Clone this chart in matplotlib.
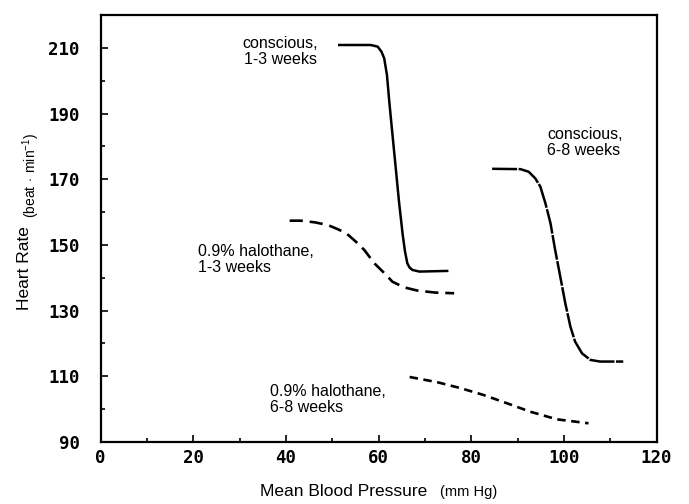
import matplotlib.pyplot as plt
from matplotlib.ticker import MultipleLocator

plt.rcParams['font.family'] = ['Liberation Sans', 'DejaVu Sans']
plt.rcParams['mathtext.fontset'] = 'custom'
plt.rcParams['mathtext.rm'] = 'Liberation Sans'

# baroreflex curves: mean blood pressure (mm Hg) vs heart rate (beat/min)
conscious_13_bp = [51.5, 58.3, 59.8, 60.6, 61.2, 61.8, 62.3, 63.0, 63.7, 64.4, 65.2, 65.7, 66.2,
                   66.7, 67.3, 68.8, 74.8]
conscious_13_hr = [210.9, 210.9, 210.4, 208.9, 206.9, 201.8, 193.7, 183.5, 173.4, 163.2, 153.1, 148.0, 144.4,
                   143.1, 142.4, 141.9, 142.1]

halo_13_bp = [40.8, 43.3, 46.2, 49.0, 51.2, 53.0, 55.1, 56.9, 59.1, 60.9, 63.0, 65.5, 68.4, 72.3, 76.3]
halo_13_hr = [157.4, 157.4, 156.9, 156.1, 154.8, 153.6, 151.0, 148.5, 144.4, 141.9, 138.8, 137.1, 136.1,
              135.5, 135.3]

conscious_68_bp = [84.5, 90.6, 92.4, 93.8, 94.9, 96.0, 97.1, 98.1, 99.2, 100.3, 101.4, 102.4, 103.9,
                   105.7, 107.8, 112.8]
conscious_68_hr = [173.2, 173.1, 172.3, 170.3, 167.8, 162.7, 156.6, 148.5, 140.4, 132.2, 125.1, 120.6,
                   117.0, 115.0, 114.5, 114.5]

halo_68_bp = [66.7, 72.7, 77.7, 82.7, 87.7, 92.8, 98.5, 105.3]
halo_68_hr = [109.8, 108.2, 106.4, 104.3, 101.8, 99.2, 96.9, 95.7]

fig = plt.figure(figsize=(6.89, 5.04), dpi=100)
ax = fig.add_axes([0.146, 0.123, 0.807, 0.847])

ax.plot(conscious_13_bp, conscious_13_hr, color='black', lw=1.8, solid_joinstyle='round')
ax.plot(halo_13_bp, halo_13_hr, color='black', lw=1.9, dashes=(5, 2.6))
ax.plot(conscious_68_bp, conscious_68_hr, color='black', lw=1.8, dashes=(10, 0.6))
ax.plot(halo_68_bp, halo_68_hr, color='black', lw=1.9, dashes=(3.2, 2.1))

ax.set_xlim(0, 120)
ax.set_ylim(90, 220)
ax.xaxis.set_major_locator(MultipleLocator(20))
ax.xaxis.set_minor_locator(MultipleLocator(10))
ax.yaxis.set_minor_locator(MultipleLocator(10))
ax.set_yticks(range(90, 211, 20))

for s in ax.spines.values():
    s.set_linewidth(1.6)

ax.tick_params(which='both', direction='in', top=False, right=False, width=1.2)
ax.tick_params(which='major', length=5)
ax.tick_params(which='minor', length=3)
ax.tick_params(axis='y', pad=15)
ax.tick_params(axis='x', pad=5)
for lab in ax.get_xticklabels() + ax.get_yticklabels():
    lab.set_fontfamily('DejaVu Sans Mono')
    lab.set_fontweight('bold')
    lab.set_fontsize(12.5)

txt = dict(fontsize=11.5, color='black', va='top', linespacing=1.05)
ax.text(47.0, 213.6, 'conscious,\n1-3 weeks', ha='right', multialignment='center', **txt)
ax.text(96.4, 185.8, 'conscious,\n6-8 weeks', ha='left', **txt)
ax.text(21.0, 150.2, '0.9% halothane,\n1-3 weeks', ha='left', **txt)
ax.text(36.5, 107.6, '0.9% halothane,\n6-8 weeks', ha='left', **txt)

fig.text(0.620, 0.016, 'Mean Blood Pressure', ha='right', va='baseline', fontsize=12.5)
fig.text(0.639, 0.016, '(mm Hg)', ha='left', va='baseline', fontsize=10.5)
fig.text(0.046, 0.385, 'Heart Rate', rotation=90, ha='right', va='bottom', fontsize=12.5)
fig.text(0.061, 0.568, r'(beat$\,\cdot\,$min$^{\mathrm{-1}}$)', rotation=90, ha='right', va='bottom',
         fontsize=10)

fig.savefig('out.png', dpi=100)
